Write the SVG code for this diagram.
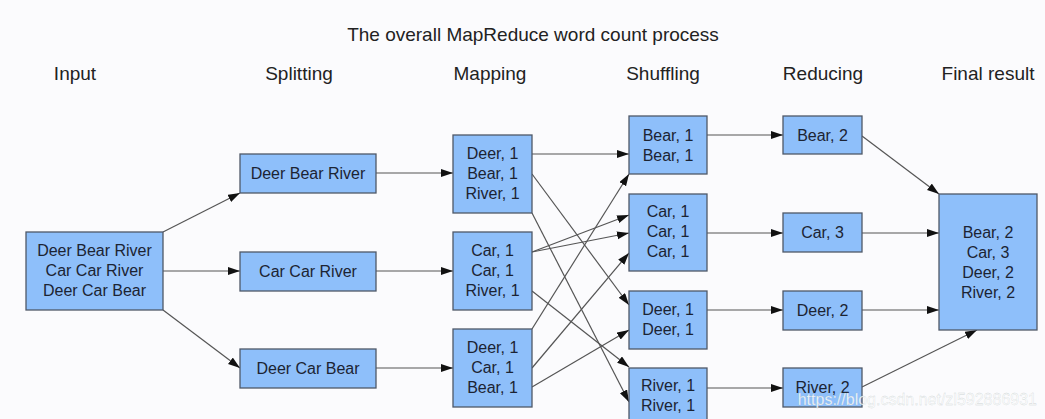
<svg xmlns="http://www.w3.org/2000/svg" width="1045" height="419" viewBox="0 0 1045 419">
<defs>
<marker id="ah" markerWidth="13" markerHeight="9" refX="12" refY="4" orient="auto" markerUnits="userSpaceOnUse">
<path d="M0,0 L12,4 L0,8 z" fill="#111"/>
</marker>
<style>
.box{fill:#8ebffa;stroke:#4f5868;stroke-width:1.3}
.t{font-family:"Liberation Sans",Arial,sans-serif;font-size:16px;fill:#1c2433;text-anchor:middle}
.h{font-family:"Liberation Sans",Arial,sans-serif;font-size:19px;fill:#222;text-anchor:middle}
.c line{stroke:#555;stroke-width:1.2;marker-end:url(#ah)}
</style>
</defs>
<rect width="1045" height="419" fill="#fbfbfd"/>
<g id="headers">
<text class="h" x="533" y="41">The overall MapReduce word count process</text>
<text class="h" x="75" y="80">Input</text>
<text class="h" x="299" y="80">Splitting</text>
<text class="h" x="490" y="80">Mapping</text>
<text class="h" x="663" y="80">Shuffling</text>
<text class="h" x="823" y="80">Reducing</text>
<text class="h" x="988" y="80">Final result</text>
</g>
<g class="c" id="connectors">
<line x1="163" y1="232" x2="240" y2="193"/>
<line x1="163" y1="271" x2="240" y2="271"/>
<line x1="163" y1="310" x2="240" y2="368"/>
<line x1="376" y1="173" x2="453" y2="173"/>
<line x1="376" y1="271" x2="453" y2="271"/>
<line x1="376" y1="368" x2="453" y2="368"/>
<line x1="532" y1="154" x2="629" y2="154"/>
<line x1="532" y1="174" x2="629" y2="305"/>
<line x1="532" y1="213" x2="629" y2="402"/>
<line x1="532" y1="252" x2="629" y2="215"/>
<line x1="532" y1="252" x2="629" y2="233"/>
<line x1="532" y1="291" x2="629" y2="367"/>
<line x1="532" y1="329" x2="629" y2="174"/>
<line x1="532" y1="368" x2="629" y2="253"/>
<line x1="532" y1="387" x2="629" y2="330"/>
<line x1="707" y1="135" x2="783" y2="135"/>
<line x1="707" y1="233" x2="783" y2="233"/>
<line x1="707" y1="310" x2="783" y2="310"/>
<line x1="707" y1="388" x2="783" y2="388"/>
<line x1="862" y1="136" x2="939" y2="194"/>
<line x1="862" y1="233" x2="939" y2="233"/>
<line x1="862" y1="310" x2="939" y2="310"/>
<line x1="862" y1="387" x2="977" y2="330"/>
</g>
<g id="input">
<rect class="box" x="26" y="232" width="137" height="78"/>
<text class="t" x="94.5" y="256">Deer Bear River</text>
<text class="t" x="94.5" y="276">Car Car River</text>
<text class="t" x="94.5" y="296">Deer Car Bear</text>
</g>
<g id="split1"><rect class="box" x="240" y="154" width="136" height="39"/><text class="t" x="308" y="179">Deer Bear River</text></g>
<g id="split2"><rect class="box" x="240" y="252" width="136" height="39"/><text class="t" x="308" y="277">Car Car River</text></g>
<g id="split3"><rect class="box" x="240" y="349" width="136" height="39"/><text class="t" x="308" y="374">Deer Car Bear</text></g>
<g id="map1"><rect class="box" x="453" y="135" width="79" height="78"/>
<text class="t" x="492.5" y="159">Deer, 1</text><text class="t" x="492.5" y="179">Bear, 1</text><text class="t" x="492.5" y="199">River, 1</text></g>
<g id="map2"><rect class="box" x="453" y="232" width="79" height="78"/>
<text class="t" x="492.5" y="256">Car, 1</text><text class="t" x="492.5" y="276">Car, 1</text><text class="t" x="492.5" y="296">River, 1</text></g>
<g id="map3"><rect class="box" x="453" y="329" width="79" height="78"/>
<text class="t" x="492.5" y="353">Deer, 1</text><text class="t" x="492.5" y="373">Car, 1</text><text class="t" x="492.5" y="393">Bear, 1</text></g>
<g id="shuf1"><rect class="box" x="629" y="116" width="78" height="58"/>
<text class="t" x="668" y="140.5">Bear, 1</text><text class="t" x="668" y="160.5">Bear, 1</text></g>
<g id="shuf2"><rect class="box" x="629" y="194" width="78" height="77"/>
<text class="t" x="668" y="217">Car, 1</text><text class="t" x="668" y="237">Car, 1</text><text class="t" x="668" y="257">Car, 1</text></g>
<g id="shuf3"><rect class="box" x="629" y="291" width="78" height="58"/>
<text class="t" x="668" y="315">Deer, 1</text><text class="t" x="668" y="335">Deer, 1</text></g>
<g id="shuf4"><rect class="box" x="629" y="368" width="78" height="58"/>
<text class="t" x="668" y="391">River, 1</text><text class="t" x="668" y="411">River, 1</text></g>
<g id="red1"><rect class="box" x="783" y="116" width="79" height="38"/><text class="t" x="822.5" y="140.5">Bear, 2</text></g>
<g id="red2"><rect class="box" x="783" y="213" width="79" height="39"/><text class="t" x="822.5" y="238">Car, 3</text></g>
<g id="red3"><rect class="box" x="783" y="291" width="79" height="39"/><text class="t" x="822.5" y="316">Deer, 2</text></g>
<g id="red4"><rect class="box" x="783" y="368" width="79" height="39"/><text class="t" x="822.5" y="393">River, 2</text></g>
<g id="final"><rect class="box" x="939" y="194" width="98" height="136"/>
<text class="t" x="988" y="237.5">Bear, 2</text><text class="t" x="988" y="257.5">Car, 3</text><text class="t" x="988" y="277.5">Deer, 2</text><text class="t" x="988" y="297.5">River, 2</text></g>
<text x="1037" y="405" font-family="'Liberation Sans',Arial,sans-serif" font-size="16" text-anchor="end" fill="#fff" fill-opacity="0.85" stroke="#9aa" stroke-width="0.3" stroke-opacity="0.5">https://blog.csdn.net/zl592886931</text>
</svg>
